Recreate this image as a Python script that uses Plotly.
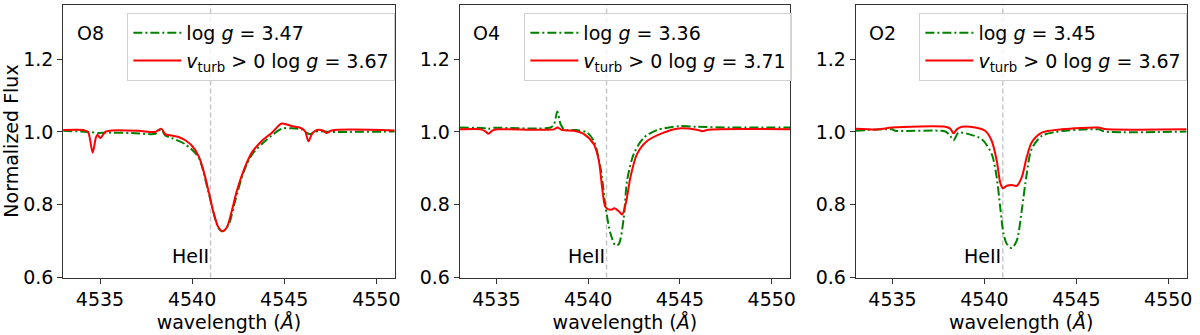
import plotly.graph_objects as go
from plotly.subplots import make_subplots

# (wavelength in Angstrom, normalized flux)
o8_wl_green = [4533.0, 4534.35, 4534.92, 4535.29, 4536.73, 4538.0, 4538.32, 4538.54, 4538.9, 4539.63,
               4540.35, 4540.89, 4541.43, 4541.65, 4541.98, 4542.34, 4542.79, 4543.24, 4543.97, 4544.87,
               4545.41, 4545.95, 4546.23, 4546.41, 4546.68, 4547.58, 4551.0]
o8_fl_green = [1.003, 1.0, 0.997, 0.998, 0.997, 0.995, 1.007, 0.99, 0.983, 0.966,
               0.93, 0.834, 0.736, 0.727, 0.745, 0.811, 0.889, 0.937, 0.975, 1.009,
               1.01, 1.007, 0.997, 0.994, 1.001, 1.0, 1.001]
o8_wl_red = [4533.0, 4534.11, 4534.35, 4534.6, 4534.78, 4534.87, 4535.01, 4535.29, 4535.65, 4537.09,
             4538.0, 4538.32, 4538.54, 4538.9, 4539.26, 4539.63, 4539.99, 4540.35, 4540.62, 4540.89,
             4541.16, 4541.43, 4541.65, 4541.89, 4542.16, 4542.43, 4542.79, 4543.24, 4543.78, 4544.33,
             4544.87, 4545.41, 4545.95, 4546.14, 4546.32, 4546.5, 4546.77, 4547.13, 4547.31, 4547.58, 4551.0]
o8_fl_red = [1.005, 1.005, 1.0, 0.943, 0.985, 0.992, 0.983, 1.0, 1.004, 1.003,
             1.0, 1.009, 0.994, 0.99, 0.986, 0.977, 0.962, 0.934, 0.893, 0.838,
             0.779, 0.738, 0.727, 0.738, 0.784, 0.838, 0.893, 0.943, 0.975, 0.998,
             1.023, 1.016, 1.01, 1.001, 0.974, 0.994, 1.005, 1.003, 0.997, 1.004, 1.004]

o4_wl_green = [4533.0, 4534.35, 4534.53, 4534.8, 4537.96, 4538.14, 4538.32, 4538.5, 4538.69, 4539.41,
               4539.95, 4540.31, 4540.67, 4540.95, 4541.22, 4541.49, 4541.67, 4541.94, 4542.12, 4542.48,
               4543.03, 4543.75, 4545.01, 4545.92, 4547.73, 4551.0]
o4_fl_green = [1.012, 1.01, 1.008, 1.011, 1.012, 1.021, 1.056, 1.021, 1.007, 1.005,
               0.998, 0.975, 0.902, 0.793, 0.72, 0.688, 0.692, 0.765, 0.866, 0.939,
               0.984, 1.005, 1.016, 1.014, 1.012, 1.012]
o4_wl_red = [4533.0, 4534.16, 4534.44, 4534.56, 4534.8, 4535.07, 4538.14, 4538.32, 4538.59, 4539.23,
             4539.77, 4540.31, 4540.58, 4540.76, 4540.95, 4541.22, 4541.43, 4541.67, 4541.85, 4542.08,
             4542.3, 4542.66, 4543.21, 4544.11, 4544.83, 4545.92, 4546.24, 4546.55, 4551.0]
o4_fl_red = [1.007, 1.007, 1.0, 0.995, 1.004, 1.007, 1.007, 1.012, 1.005, 1.003,
             0.994, 0.966, 0.921, 0.848, 0.793, 0.786, 0.79, 0.782, 0.773, 0.811,
             0.875, 0.939, 0.975, 0.998, 1.009, 1.006, 1.002, 1.006, 1.007]

o2_wl_green = [4533.0, 4534.98, 4535.16, 4537.87, 4538.14, 4538.32, 4538.59, 4539.14, 4539.86, 4540.4,
               4540.67, 4540.86, 4541.04, 4541.22, 4541.49, 4541.76, 4542.03, 4542.3, 4542.57, 4543.12,
               4543.84, 4546.19, 4546.55, 4551.0]
o2_fl_green = [1.003, 1.007, 1.003, 1.001, 0.989, 0.977, 0.998, 0.994, 0.98, 0.939,
               0.875, 0.793, 0.72, 0.692, 0.681, 0.701, 0.784, 0.884, 0.953, 0.989,
               1.0, 1.007, 1.001, 1.001]
o2_wl_red = [4533.0, 4534.25, 4534.98, 4537.87, 4538.14, 4538.32, 4538.5, 4538.78, 4539.5, 4540.04,
             4540.4, 4540.67, 4540.86, 4541.0, 4541.22, 4541.49, 4541.76, 4542.03, 4542.3, 4542.57,
             4543.12, 4544.2, 4546.19, 4546.55, 4551.0]
o2_fl_red = [1.009, 1.007, 1.012, 1.014, 1.009, 0.996, 1.007, 1.014, 1.012, 1.003,
             0.975, 0.921, 0.861, 0.845, 0.852, 0.854, 0.852, 0.875, 0.93, 0.971,
             0.998, 1.007, 1.012, 1.008, 1.007]

panel_names = ['O8', 'O4', 'O2']
logg_plain = ['3.47', '3.36', '3.45']
logg_turb = ['3.67', '3.71', '3.67']
heii_wl = 4541.0

panels = [
    (o8_wl_green, o8_fl_green, o8_wl_red, o8_fl_red),
    (o4_wl_green, o4_fl_green, o4_wl_red, o4_fl_red),
    (o2_wl_green, o2_fl_green, o2_wl_red, o2_fl_red),
]

FONT = 'DejaVu Sans'
FS = 19
fig = make_subplots(rows=1, cols=3)

x_domains = [[0.0529, 0.3306], [0.3850, 0.6617], [0.7167, 0.9938]]
y_domain = [0.1435, 0.9861]
legend_x = [128 / 1200, 527 / 1200, 924 / 1200]

for i, (wg, fg, wr, fr) in enumerate(panels):
    col = i + 1
    leg = 'legend' if i == 0 else 'legend%d' % col
    fig.add_trace(go.Scatter(x=wg, y=fg, mode='lines', line_shape='spline',
                             line=dict(color='green', width=2, dash='9px,3px,2px,3px', smoothing=0.8),
                             name='log <i>g</i> = ' + logg_plain[i], legend=leg),
                  row=1, col=col)
    fig.add_trace(go.Scatter(x=wr, y=fr, mode='lines', line_shape='spline',
                             line=dict(color='red', width=2, smoothing=0.8),
                             name='<i>v</i><sub>turb</sub> > 0 log <i>g</i> = ' + logg_turb[i], legend=leg),
                  row=1, col=col)
    fig.add_vline(x=heii_wl, line=dict(color='#c8c8c8', width=1.5, dash='5px,3px'), layer='below',
                  row=1, col=col)
    fig.add_annotation(x=heii_wl, y=0.66, text='HeII', showarrow=False, xanchor='right', yanchor='middle',
                       font=dict(size=FS, color='black', family=FONT), row=1, col=col)
    xr = 'x' if i == 0 else 'x%d' % col
    yr = 'y' if i == 0 else 'y%d' % col
    fig.add_annotation(x=0.035, y=0.895, xref=xr + ' domain', yref=yr + ' domain',
                       text=panel_names[i], showarrow=False, xanchor='left', yanchor='middle',
                       font=dict(size=FS, color='black', family=FONT))

    fig.update_xaxes(domain=x_domains[i], range=[4533, 4551], tickvals=[4535, 4540, 4545, 4550],
                     title=dict(text='wavelength (<i>Å</i>)', standoff=6, font=dict(size=FS)),
                     row=1, col=col)
    fig.update_yaxes(domain=y_domain, range=[0.6, 1.35], tickvals=[0.6, 0.8, 1.0, 1.2],
                     tickformat='.1f', row=1, col=col)

fig.update_yaxes(title=dict(text='Normalized Flux', standoff=4, font=dict(size=FS)), row=1, col=1)

fig.update_xaxes(showline=True, mirror=True, linecolor='#333', linewidth=1, ticks='outside', ticklen=5,
                 tickcolor='#333', showgrid=False, zeroline=False, tickfont=dict(size=FS))
fig.update_yaxes(showline=True, mirror=True, linecolor='#333', linewidth=1, ticks='outside', ticklen=5,
                 tickcolor='#333', showgrid=False, zeroline=False, tickfont=dict(size=FS))

legend_style = dict(xanchor='left', yanchor='top', y=0.96, bgcolor='rgba(255,255,255,0.8)',
                    bordercolor='#d0d0d0', borderwidth=1, itemwidth=48,
                    font=dict(size=FS, family=FONT, color='black'))
fig.update_layout(
    width=1200, height=335, autosize=False, margin=dict(l=0, r=0, t=0, b=0),
    paper_bgcolor='white', plot_bgcolor='white',
    font=dict(family=FONT, color='black'),
    legend=dict(x=legend_x[0], **legend_style),
    legend2=dict(x=legend_x[1], **legend_style),
    legend3=dict(x=legend_x[2], **legend_style),
)

fig.write_html("out.html", config={'responsive': False, 'displayModeBar': False},
               post_script="document.body.style.margin='0';")
